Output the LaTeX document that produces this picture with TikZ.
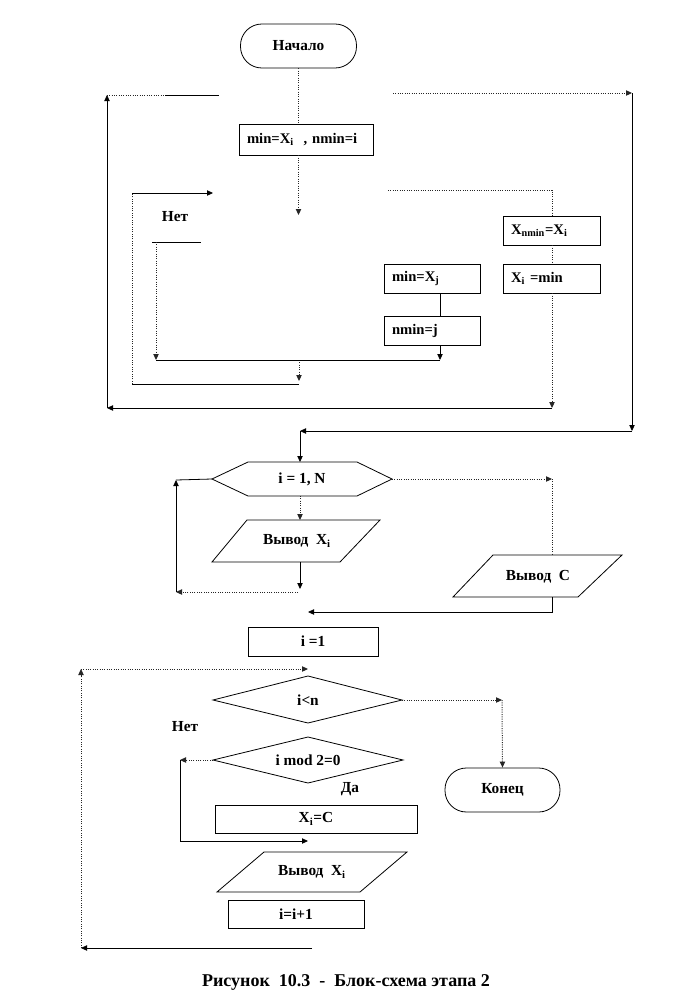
\documentclass[tikz,border=0pt]{standalone}
\usepackage{fontspec}
\setmainfont{Liberation Serif}
\usetikzlibrary{arrows.meta}
\begin{document}
\begin{tikzpicture}[x=0.75pt,y=-0.75pt,
  ln/.style={line width=0.6pt,draw=black},
  dln/.style={line width=0.75pt,draw=black!85,densely dotted},
  arr/.style={-{Triangle[length=4.5pt,width=4pt]}},
  shp/.style={line width=0.6pt,draw=black,fill=white},
  txt/.style={font=\fontsize{11.5}{13}\selectfont\bfseries,inner sep=0pt},
  bx/.style={shp,rectangle,font=\fontsize{11}{13}\selectfont\bfseries,inner xsep=6pt,inner ysep=0pt,align=left},
  cbx/.style={shp,rectangle,font=\fontsize{11.5}{13}\selectfont\bfseries,inner sep=0pt,align=center},
  term/.style={shp,rectangle,rounded corners=16pt,font=\fontsize{11.5}{13}\selectfont\bfseries,inner sep=0pt,minimum width=87pt,minimum height=33pt}]
\fill[white] (0,0) rectangle (684,1008);
\useasboundingbox (0,0) rectangle (684,1008);

% ---------- coordinates ----------
\coordinate (a1) at (298.5,215);
\coordinate (bl) at (107,408);
\coordinate (tl) at (107,95);
\coordinate (tlm) at (165,95);
\coordinate (tle) at (219,95);
\coordinate (tr0) at (393,93);
\coordinate (tr) at (632,93);
\coordinate (trb) at (632,431);
\coordinate (m1) at (300,431);
\coordinate (in0) at (299,384);
\coordinate (in1) at (132,384);
\coordinate (in2) at (132,193);
\coordinate (in3) at (213,193);
\coordinate (j0) at (299,360);
\coordinate (j1) at (299,381);
\coordinate (n1) at (152,242);
\coordinate (n2) at (201,242);
\coordinate (n3) at (156,242);
\coordinate (n4) at (156,360);
\coordinate (j2) at (440,360);
\coordinate (r0) at (388,190);
\coordinate (r1) at (552,190);
\coordinate (r2) at (552,408);

% ---------- top section nodes ----------
\node[term] (start) at (298.5,46) {Начало};
\node[bx,minimum width=100.5pt,minimum height=23.25pt,text width=88.5pt] (minb) at (306,139.5) {min=X\textsubscript{i}\ \ , nmin=i};
\node[bx,minimum width=72.75pt,minimum height=21.75pt,text width=60.75pt] (xnmin) at (551.5,230.5) {X\textsubscript{nmin}=X\textsubscript{i}};
\node[bx,minimum width=72.75pt,minimum height=21.75pt,text width=60.75pt] (ximin) at (551.5,278.5) {X\textsubscript{i} =min};
\node[bx,minimum width=72pt,minimum height=21.75pt,text width=60pt] (minxj) at (432,278.5) {min=X\textsubscript{j}};
\node[bx,minimum width=72pt,minimum height=21.75pt,text width=60pt] (nminj) at (432,330.5) {nmin=j};
\node[txt] (net1) at (175,217) {Нет};

% ---------- top section connectors ----------
\draw[dln] (start.south) -- (start.south |- minb.north);
\draw[dln,arr] (start.south |- minb.south) -- (a1);
\draw[ln,arr] (bl) -- (tl);
\draw[dln] (tl) -- (tlm);
\draw[ln] (tlm) -- (tle);
\draw[dln,arr] (tr0) -- (tr);
\draw[ln,arr] (tr) -- (trb);
\draw[ln,arr] (trb) -- (m1);
\draw[ln] (in0) -- (in1);
\draw[dln] (in1) -- (in2);
\draw[ln,arr] (in2) -- (in3);
\draw[dln,arr] (j0) -- (j1);
\draw[ln] (n1) -- (n2);
\draw[dln,arr] (n3) -- (n4);
\draw[ln] (n4) -- (j2);
\draw[ln] (j2 |- minxj.south) -- (j2 |- nminj.north);
\draw[ln,arr] (j2 |- nminj.south) -- (j2);
\draw[dln] (r0) -- (r1) -- (r1 |- xnmin.north);
\draw[dln] (r1 |- xnmin.south) -- (r1 |- ximin.north);
\draw[dln,arr] (r1 |- ximin.south) -- (r2);
\draw[ln,arr] (r2) -- (bl);

% ---------- middle section ----------
\coordinate (hexW) at (212,479);
\coordinate (hexE) at (392,479);
\coordinate (hexN) at (300,462);
\coordinate (hexS) at (300,496);
\draw[shp] (hexW) -- (248,462) -- (357,462) -- (hexE) -- (357,496) -- (248,496) -- cycle;
\node[txt] (hex) at (302,479) {i = 1, N};

\coordinate (vxN) at (300,520);
\coordinate (vxS) at (300,562);
\draw[shp] (247,520) -- (380,520) -- (340,562) -- (212,562) -- cycle;
\node[txt] (vx) at (297,541) {Вывод\ \ X\textsubscript{i}};

\coordinate (vcN) at (552,555);
\coordinate (vcS) at (552,597);
\draw[shp] (493,555) -- (622,555) -- (578,597) -- (453,597) -- cycle;
\node[txt] (vc) at (538,577) {Вывод\ \ C};

\coordinate (v1) at (300,589);
\coordinate (v2) at (298,592);
\coordinate (v3) at (176,592);
\coordinate (v4) at (176,480);
\coordinate (e1) at (552,479);
\coordinate (e2) at (552,612);
\coordinate (e3) at (308,612);

\draw[ln,arr] (m1) -- (hexN);
\draw[dln,arr] (hexS) -- (vxN);
\draw[ln,arr] (vxS) -- (v1);
\draw[dln,arr] (v2) -- (v3);
\draw[ln,arr] (v3) -- (v4);
\draw[ln] (v4) -- (hexW);
\draw[dln,arr] (hexE) -- (e1);
\draw[dln] (e1) -- (vcN);
\draw[ln,arr] (vcS) -- (e2) -- (e3);

% ---------- bottom section ----------
\node[cbx,minimum width=97.5pt,minimum height=21.75pt] (i1) at (313,641.5) {i =1};

\coordinate (d1W) at (213,700);
\coordinate (d1N) at (308,676);
\coordinate (d1E) at (402,700);
\coordinate (d1S) at (308,723);
\draw[shp] (d1W) -- (d1N) -- (d1E) -- (d1S) -- cycle;
\node[txt] (d1) at (308,700) {i<n};

\coordinate (d2W) at (213,760);
\coordinate (d2N) at (308,737);
\coordinate (d2E) at (403,760);
\coordinate (d2S) at (308,783);
\draw[shp] (d2W) -- (d2N) -- (d2E) -- (d2S) -- cycle;
\node[txt] (d2) at (308,760) {i mod 2=0};

\node[term,minimum width=86.25pt] (end) at (502.5,790) {Конец};
\node[cbx,minimum width=151.5pt,minimum height=21pt] (xc) at (316,819) {X\textsubscript{i}=C};

\draw[shp] (264,852) -- (407,852) -- (360,892) -- (217,892) -- cycle;
\node[txt] (vx2) at (312,872) {Вывод\ \ X\textsubscript{i}};

\node[cbx,minimum width=102pt,minimum height=21pt] (inc) at (296,914) {i=i+1};

\node[txt] (net2) at (185,727) {Нет};
\node[txt] (da) at (350,789) {Да};

\coordinate (L1) at (81,948);
\coordinate (L2) at (81,669);
\coordinate (L3) at (308,669);
\coordinate (L4) at (312,948);
\coordinate (k1) at (502,700);
\coordinate (k2) at (180,760);
\coordinate (k3) at (180,841);
\coordinate (k4) at (308,841);

\draw[dln,arr] (L1) -- (L2);
\draw[dln,arr] (L2) -- (L3);
\draw[dln,arr] (d1E) -- (k1);
\draw[dln,arr] (k1) -- (end.north);
\draw[dln,arr] (d2W) -- (k2);
\draw[ln,arr] (k2) -- (k3) -- (k4);
\draw[ln,arr] (L4) -- (L1);

\node[font=\fontsize{13.5}{15}\selectfont\bfseries,inner sep=0pt] (cap) at (346,982) {Рисунок\ \ 10.3\ \ -\ \ Блок-схема этапа 2};
\end{tikzpicture}
\end{document}
